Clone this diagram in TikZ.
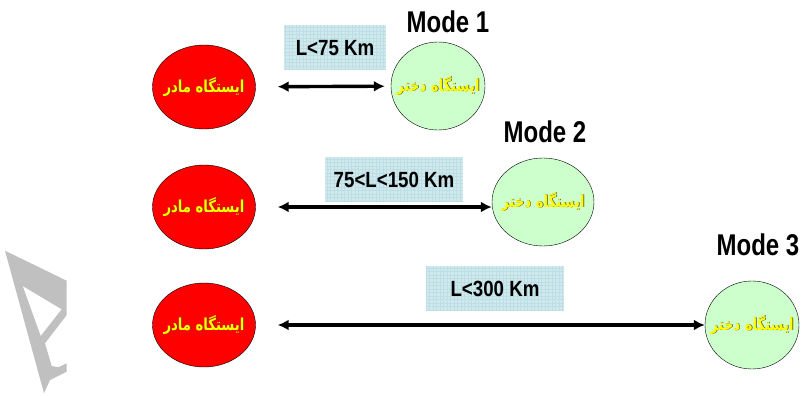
\documentclass[tikz,border=0pt]{standalone}
\usepackage{fontspec}
\usepackage{graphicx}
\setmainfont{Liberation Sans}
\newfontfamily\farsi[Script=Arabic]{DejaVu Sans}
\TeXXeTstate=1
\usetikzlibrary{arrows.meta,shapes.geometric}
\definecolor{motherred}{RGB}{255,0,0}
\definecolor{daughtergreen}{RGB}{204,255,204}
\definecolor{namegold}{RGB}{255,255,0}
\definecolor{nameshade}{RGB}{90,70,0}
\definecolor{boxblue}{RGB}{208,233,237}
\definecolor{boxgrid}{RGB}{190,222,230}
\definecolor{markgray}{RGB}{192,192,192}
\newcommand\squeeze[2][0.85]{\scalebox{#1}[1]{#2}}
\newcommand\stationname[1]{\makebox[0pt]{\squeeze[0.8]{\makebox[0pt][l]{\hspace{0.9pt}\raisebox{-0.9pt}{\textcolor{nameshade}{\beginR #1\endR}}}\beginR #1\endR}}}
\begin{document}
\begin{tikzpicture}[x=1pt,y=-1pt,
    stationtext/.style={font=\farsi\bfseries\fontsize{16.5}{16.5}\selectfont,text=namegold},
    mother/.style={ellipse,draw,thin,fill=motherred,inner sep=0pt,
        minimum width=103pt,minimum height=84pt,stationtext},
    daughter/.style={ellipse,draw,thin,fill=daughtergreen,inner sep=0pt,
        minimum width=94pt,minimum height=88pt,stationtext},
    distbox/.style={fill=boxblue,inner sep=0pt,minimum height=45pt,
        font=\bfseries\fontsize{22}{22}\selectfont,
        path picture={\draw[boxgrid,step=3.5pt]
            (path picture bounding box.south west) grid
            (path picture bounding box.north east);}},
    modelabel/.style={font=\bfseries\fontsize{30}{30}\selectfont},
    link/.style={line width=3.4pt,
        {Latex[length=11pt,width=11pt]}-{Latex[length=11pt,width=11pt]}}]
        \useasboundingbox (0,0) rectangle (801,396);
        % grey mark on the left edge
        \fill[markgray,even odd rule] (5,250.7) -- (66.7,280.7) -- (66.7,315)
            -- (45,343.3) -- (51.7,366) -- (58.3,367.3) -- (66.7,363.3)
            -- (66.7,371.7) -- (56.7,376.7) -- (50,380) -- (44,393.3) -- cycle
            (22.7,286) -- (61.7,309.3) -- (40.7,336) -- cycle;
        % stations
        \node[mother] (m1) at (204,87) {\stationname{ایستگاه مادر}};
        \node[daughter] (d1) at (438,86) {\stationname{ایستگاه دختر}};
        \node[mother] (m2) at (204,207) {\stationname{ایستگاه مادر}};
        \node[daughter,minimum width=102pt] (d2) at (543,202) {\stationname{ایستگاه دختر}};
        \node[mother] (m3) at (204,325) {\stationname{ایستگاه مادر}};
        \node[daughter] (d3) at (752,325) {\stationname{ایستگاه دختر}};
        % distances
        \node[distbox,minimum width=102pt] (b1) at (335,48) {\squeeze{L<75 Km}};
        \node[distbox,minimum width=138pt] (b2) at (394,179.5) {\squeeze{75<L<150 Km}};
        \node[distbox,minimum width=138pt] (b3) at (495,288.5) {\squeeze{L<300 Km}};
        \node[modelabel] (mode1) at (448,22) {\squeeze[0.8]{Mode 1}};
        \node[modelabel] (mode2) at (545,132) {\squeeze[0.8]{Mode 2}};
        \node[modelabel] (mode3) at (758,245) {\squeeze[0.8]{Mode 3}};
        \draw[link,shorten <=22pt,shorten >=6pt] (m1) -- (d1);
        \draw[link,shorten <=22pt] (m2.east) -- (m2.east -| d2.west);
        \draw[link,shorten <=22pt] (m3) -- (d3);
\end{tikzpicture}
\end{document}
